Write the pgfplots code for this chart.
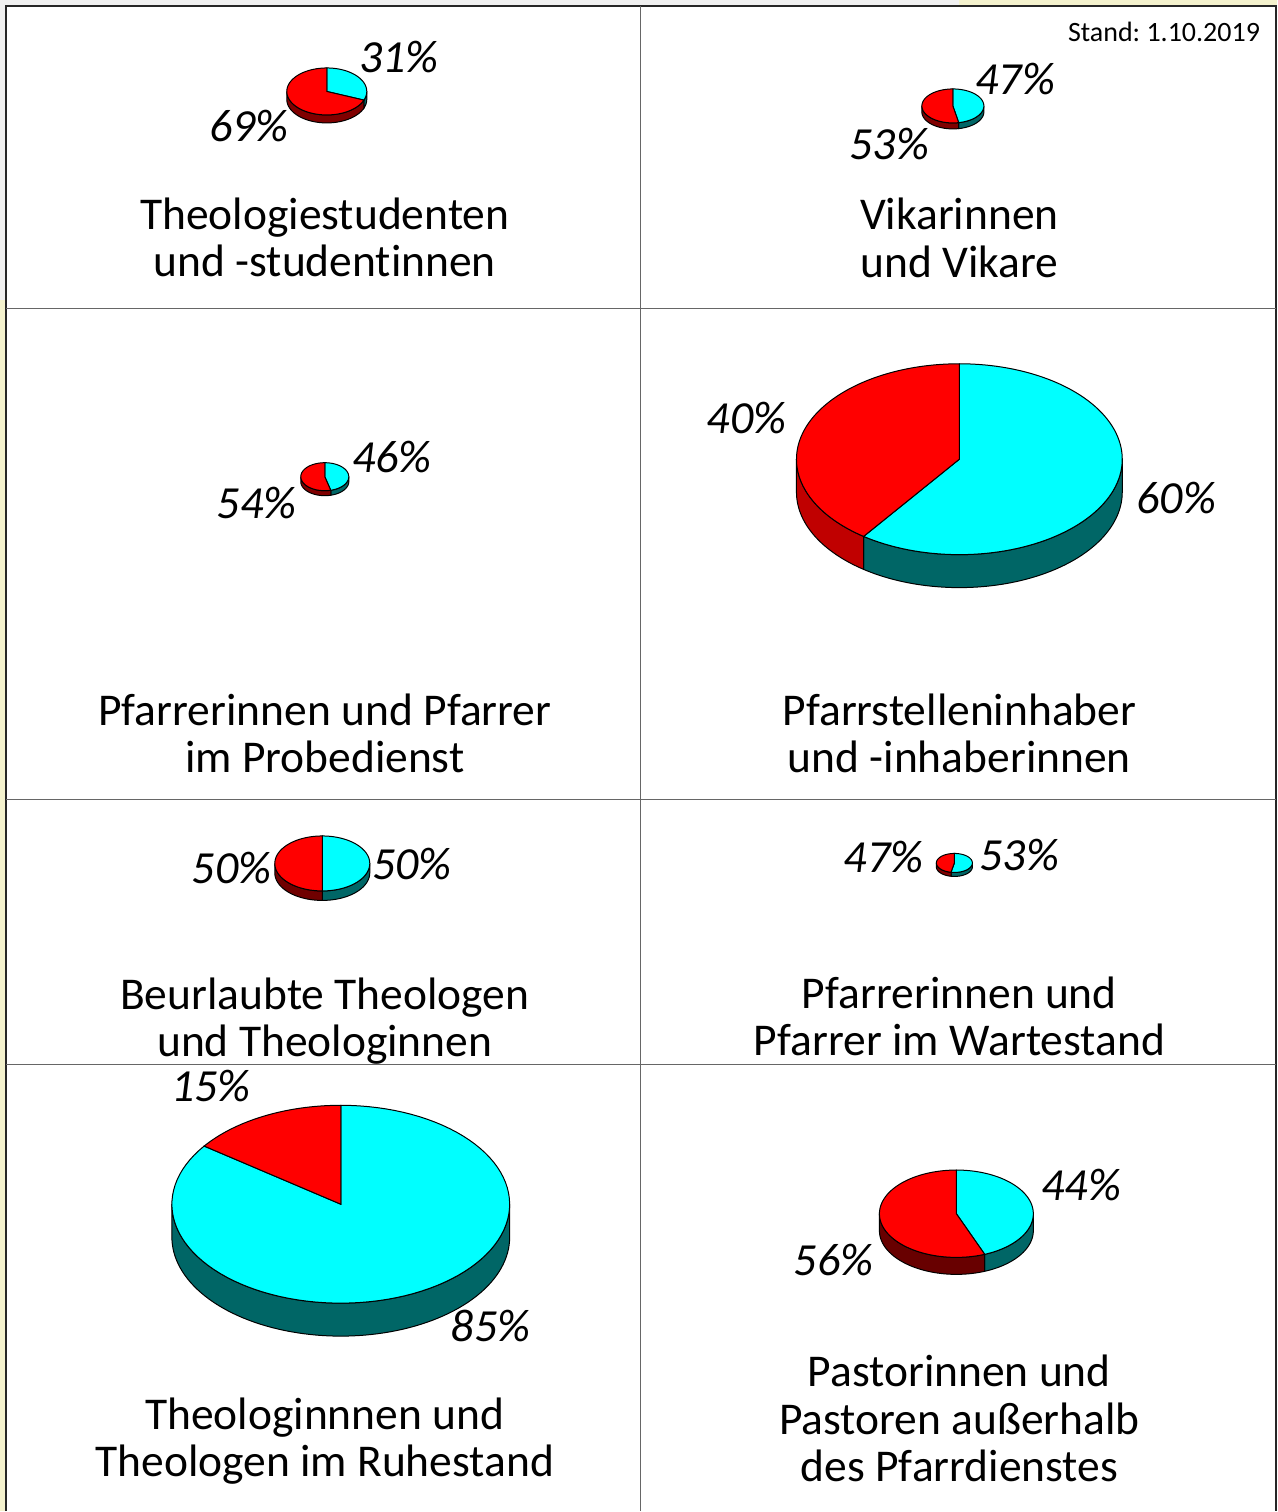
\documentclass[border=0pt]{standalone}
\usepackage{fontspec}
\setmainfont[Ligatures=NoCommon]{Carlito}
\usepackage{pgfplots}
\pgfplotsset{compat=1.18}

\definecolor{pieRed}{HTML}{FF0000}
\definecolor{pieCyan}{HTML}{00FFFF}
\definecolor{sideCyan}{HTML}{006666}
\definecolor{bgGray}{HTML}{F0F0F0}
\definecolor{bgYellow}{HTML}{F4F2CD}

\newcommand\titlefont{\fontsize{45.5}{47}\selectfont}
\newcommand\pctfont{\fontsize{46}{47}\selectfont\itshape}

% wall of a pie between angles #6 and #7 (degrees, clockwise from top)
\newcommand\pieside[8]{%
  \addplot[fill=#8, draw=black, line width=1pt, domain=0:2, samples=161, variable=\s]
    ({#1+#3*sin(((\s<=1) ? (#6+(#7-#6)*\s) : (#7-(#7-#6)*max(0,(\s-1.0125)/0.9875))))},
     {#2-#4*cos(((\s<=1) ? (#6+(#7-#6)*\s) : (#7-(#7-#6)*max(0,(\s-1.0125)/0.9875)))) + ((\s>1) ? #5 : 0)})
    -- cycle;
}
% top sector
\newcommand\pietop[7]{%
  \addplot[fill=#7, draw=black, line width=1pt, domain=#5:#6, samples=100, variable=\t]
    ({#1+#3*sin(\t)}, {#2-#4*cos(\t)}) -- (axis cs:#1,#2) -- cycle;
}
% cx cy rx ry depth cyan-percent red-wall-colour
\newcommand\pie[7]{%
  \pgfmathsetmacro\pb{3.6*#6}%
  \pgfmathsetmacro\cb{min(270,\pb)}%
  \pgfmathsetmacro\ra{max(90,\pb)}%
  \definecolor{sideRed}{HTML}{#7}%
  \ifdim\cb pt>90pt
    \edef\tmp{\noexpand\pieside{#1}{#2}{#3}{#4}{#5}{90}{\cb}{sideCyan}}\tmp
  \fi
  \ifdim\ra pt<270pt
    \edef\tmp{\noexpand\pieside{#1}{#2}{#3}{#4}{#5}{\ra}{270}{sideRed#7}}\tmp
  \fi
  \edef\tmp{\noexpand\pietop{#1}{#2}{#3}{#4}{0}{\pb}{pieCyan}}\tmp
  \edef\tmp{\noexpand\pietop{#1}{#2}{#3}{#4}{\pb}{360}{pieRed}}\tmp
}
\definecolor{sideRed800000}{HTML}{800000}
\definecolor{sideRedC00000}{HTML}{C00000}
\definecolor{sideRed700000}{HTML}{700000}
\definecolor{sideRed680000}{HTML}{680000}
\newcommand\pct[3]{\node[anchor=base, font=\pctfont, inner sep=0pt] at (axis cs:#1,#2) {#3\%};}
\newcommand\ttl[3]{\node[anchor=base, font=\titlefont, inner sep=0pt] at (axis cs:#1,#2) {#3};}

\begin{document}
\frenchspacing
\begin{tikzpicture}
\begin{axis}[
  scale only axis,
  width=1278pt, height=1512pt,
  xmin=0, xmax=1278, ymin=0, ymax=1512,
  y dir=reverse,
  hide axis,
  clip=false,
]
% background and frame
\fill[white] (axis cs:0,0) rectangle (axis cs:1278,1512);
\fill[bgGray] (axis cs:0,0) rectangle (axis cs:960,6);
\fill[bgYellow] (axis cs:960,0) rectangle (axis cs:1278,6);
\fill[bgGray] (axis cs:0,6) rectangle (axis cs:6,300);
\fill[bgYellow] (axis cs:0,300) rectangle (axis cs:6,1512);
\draw[black!85, line width=2pt] (axis cs:6.5,1512) -- (axis cs:6.5,6.5) -- (axis cs:1277,6.5) -- (axis cs:1277,1512);
\draw[black!60, line width=1.2pt] (axis cs:641,6.5) -- (axis cs:641,1512);
\draw[black!60, line width=1.2pt] (axis cs:6.5,309) -- (axis cs:1277,309);
\draw[black!60, line width=1.2pt] (axis cs:6.5,800) -- (axis cs:1277,800);
\draw[black!60, line width=1.2pt] (axis cs:6.5,1065) -- (axis cs:1277,1065);

\node[anchor=base east, font=\fontsize{28}{30}\selectfont, inner sep=0pt] at (axis cs:1261,41.7) {Stand: 1.10.2019};

% pies: cx cy rx ry depth cyan% red-wall
\pie{327}{91.5}{40}{23.5}{8}{31}{800000}
\pie{953.5}{106}{31}{17}{6}{47}{800000}
\pie{325}{477}{24}{14}{5}{46}{800000}
\pie{960}{459.5}{163}{95.5}{33}{60}{C00000}
\pie{322.5}{864}{47.5}{27.5}{9.5}{50}{700000}
\pie{955}{863.5}{18}{9.5}{4}{53}{800000}
\pie{341}{1205}{169}{99}{33}{85}{800000}
\pie{957}{1214.5}{77}{43.7}{17}{44}{680000}

% percentages
\pct{399}{73}{31}   \pct{249}{141.7}{69}
\pct{1016}{95}{47}  \pct{890}{160}{53}
\pct{392}{473.3}{46} \pct{256.7}{519}{54}
\pct{747}{434}{40}  \pct{1177}{514}{60}
\pct{231.7}{884}{50} \pct{412}{880}{50}
\pct{884.3}{873.3}{47} \pct{1020}{871}{53}
\pct{211}{1102}{15} \pct{491}{1342}{85}
\pct{1082}{1201.7}{44} \pct{834}{1276.7}{56}

% titles
\ttl{325}{230}{Theologiestudenten}
\ttl{325}{277}{und -studentinnen}
\ttl{960}{230}{Vikarinnen}
\ttl{960}{278}{und Vikare}
\ttl{325}{726}{Pfarrerinnen und Pfarrer}
\ttl{325}{773}{im Probedienst}
\ttl{960}{726}{Pfarrstelleninhaber}
\ttl{960}{773}{und -inhaberinnen}
\ttl{325}{1010}{Beurlaubte Theologen}
\ttl{325}{1057}{und Theologinnen}
\ttl{960}{1009}{Pfarrerinnen und}
\ttl{960}{1056}{Pfarrer im Wartestand}
\ttl{325}{1430}{Theologinnnen und}
\ttl{325}{1477}{Theologen im Ruhestand}
\ttl{960}{1387}{Pastorinnen und}
\ttl{960}{1435}{Pastoren außerhalb}
\ttl{960}{1482}{des Pfarrdienstes}
\end{axis}
\end{tikzpicture}
\end{document}
